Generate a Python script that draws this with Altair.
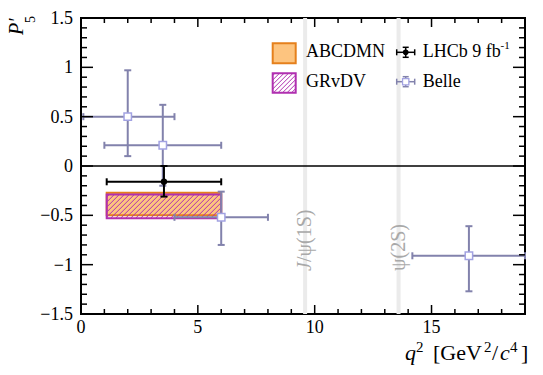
import altair as alt
import numpy as np
import pandas as pd

# ---------------- data ----------------
# LHCb 9 fb-1
lhcb_x = [3.55]
lhcb_xlo = [1.1]
lhcb_xhi = [6.0]
lhcb_y = [-0.16]
lhcb_ylo = [-0.31]
lhcb_yhi = [0.0]

# Belle
belle_x = [2.0, 3.5, 6.0, 16.6]
belle_xlo = [0.1, 1.0, 4.0, 14.18]
belle_xhi = [4.0, 6.0, 8.0, 19.0]
belle_y = [0.50, 0.21, -0.52, -0.91]
belle_ylo = [0.10, -0.20, -0.80, -1.27]
belle_yhi = [0.97, 0.62, -0.26, -0.61]

# theory boxes
abcdmn_box = [1.1, 6.0, -0.50, -0.27]   # x0, x1, y0, y1
grvdv_box = [1.1, 6.0, -0.53, -0.29]

# charmonium resonances
res_q2 = [9.59, 13.59]

# axis ticks and labels
x_major = [0, 5, 10, 15]
x_labels = ["0", "5", "10", "15"]
x_minor = [v for v in range(1, 19) if v % 5 != 0]
y_major = [-1.5, -1.0, -0.5, 0.0, 0.5, 1.0, 1.5]
y_labels = ["−1.5", "−1", "−0.5", "0", "0.5", "1", "1.5"]
y_minor = [round(v / 10, 1) for v in range(-14, 15) if v % 5 != 0]

# ---------------- layout ----------------
W, H = 444, 296
XD, YD = [0, 19], [-1.5, 1.5]
SX, SY = W / (XD[1] - XD[0]), H / (YD[1] - YD[0])
FONT = "Liberation Serif"

xs = alt.Scale(domain=XD, nice=False, zero=False)
ys = alt.Scale(domain=YD, nice=False, zero=False)

ORANGE_FILL = "#fdc47f"
ORANGE_EDGE = "#e5801c"
PURPLE = "#b02fb0"
BELLE_LINE = "#8282ac"
BELLE_MARK = "#a2a2e2"


def dx(px):
    """pixel offset inside the plot area -> data x"""
    return XD[0] + px / SX


def dy(py):
    """pixel offset (from top) inside the plot area -> data y"""
    return YD[1] - py / SY


def hatch_data(box, step=5.0):
    x0, x1, y0, y1 = box
    u0, u1, v0, v1 = x0 * SX, x1 * SX, y0 * SY, y1 * SY
    rows = []
    for c in np.arange(u0 - v1 + step / 2, u1 - v0, step):
        ua = max(u0, v0 + c)
        ub = min(u1, v1 + c)
        if ub > ua:
            rows.append({"xa": ua / SX, "ya": (ua - c) / SY, "xb": ub / SX, "yb": (ub - c) / SY})
    return pd.DataFrame(rows)


X = lambda f: alt.X(f, scale=xs, axis=None)
Y = lambda f: alt.Y(f, scale=ys, axis=None)

layers = []

# resonance vetoed regions
res_df = pd.DataFrame({"x": res_q2})
layers.append(
    alt.Chart(res_df).mark_rule(color="#ebebeb", strokeWidth=4).encode(
        x=X("x:Q"), y=alt.value(0), y2=alt.value(H))
)

# zero line
layers.append(
    alt.Chart(pd.DataFrame({"v": [0.0]})).mark_rule(color="black", strokeWidth=1.5).encode(
        y=Y("v:Q"), x=alt.value(0), x2=alt.value(W))
)

# resonance labels
res_lab_it = pd.DataFrame({"x": [res_q2[0]], "y": [dy(253)], "t": ["J"]})
res_lab = pd.DataFrame({"x": res_q2, "y": [dy(244), dy(253)], "t": ["/ψ(1S)", "ψ(2S)"]})
for d, style in [(res_lab_it, "italic"), (res_lab, "normal")]:
    layers.append(
        alt.Chart(d).mark_text(font=FONT, fontSize=20, fontStyle=style, angle=270, align="left",
                               baseline="middle", color="#a9a9a9").encode(
            x=X("x:Q"), y=Y("y:Q"), text="t:N")
    )

# ABCDMN box
bx = pd.DataFrame([dict(zip(["x0", "x1", "y0", "y1"], abcdmn_box))])
layers.append(
    alt.Chart(bx).mark_rect(fill=ORANGE_FILL, stroke=ORANGE_EDGE, strokeWidth=2).encode(
        x=X("x0:Q"), x2="x1:Q", y=Y("y0:Q"), y2="y1:Q")
)
# GRvDV hatched box
layers.append(
    alt.Chart(hatch_data(grvdv_box)).mark_rule(color=PURPLE, strokeWidth=1).encode(
        x=X("xa:Q"), x2="xb:Q", y=Y("ya:Q"), y2="yb:Q")
)
gb = pd.DataFrame([dict(zip(["x0", "x1", "y0", "y1"], grvdv_box))])
layers.append(
    alt.Chart(gb).mark_rect(fill="transparent", stroke=PURPLE, strokeWidth=2).encode(
        x=X("x0:Q"), x2="x1:Q", y=Y("y0:Q"), y2="y1:Q")
)


def errbars(x, xlo, xhi, y, ylo, yhi, color, width, cap):
    df = pd.DataFrame({"x": x, "xlo": xlo, "xhi": xhi, "y": y, "ylo": ylo, "yhi": yhi})
    out = [
        alt.Chart(df).mark_rule(color=color, strokeWidth=width).encode(
            x=X("xlo:Q"), x2="xhi:Q", y=Y("y:Q")),
        alt.Chart(df).mark_rule(color=color, strokeWidth=width).encode(
            x=X("x:Q"), y=Y("ylo:Q"), y2="yhi:Q"),
    ]
    vcaps = pd.concat([df[["xlo", "y"]].rename(columns={"xlo": "cx"}),
                       df[["xhi", "y"]].rename(columns={"xhi": "cx"})])
    hcaps = pd.concat([df[["x", "ylo"]].rename(columns={"ylo": "cy"}),
                       df[["x", "yhi"]].rename(columns={"yhi": "cy"})])
    out.append(alt.Chart(vcaps).mark_tick(orient="vertical", color=color, size=cap,
                                          thickness=width, opacity=1).encode(
        x=X("cx:Q"), y=Y("y:Q")))
    out.append(alt.Chart(hcaps).mark_tick(orient="horizontal", color=color, size=cap,
                                          thickness=width, opacity=1).encode(
        x=X("x:Q"), y=Y("cy:Q")))
    return out, df


bl, bdf = errbars(belle_x, belle_xlo, belle_xhi, belle_y, belle_ylo, belle_yhi, BELLE_LINE, 2, 7)
layers += bl
layers.append(
    alt.Chart(bdf).mark_point(shape="square", filled=True, fill="white", stroke=BELLE_MARK,
                              strokeWidth=1.5, size=55, opacity=1).encode(x=X("x:Q"), y=Y("y:Q"))
)
ll, ldf = errbars(lhcb_x, lhcb_xlo, lhcb_xhi, lhcb_y, lhcb_ylo, lhcb_yhi, "black", 2, 7)
layers += ll
layers.append(
    alt.Chart(ldf).mark_point(shape="circle", filled=True, color="black", size=40, opacity=1).encode(
        x=X("x:Q"), y=Y("y:Q"))
)

# ---------------- inward ticks on all four sides ----------------
def xt(vals, y1, y2):
    return alt.Chart(pd.DataFrame({"v": vals})).mark_rule(color="black", strokeWidth=1.5).encode(
        x=X("v:Q"), y=alt.value(y1), y2=alt.value(y2))


def yt(vals, x1, x2):
    return alt.Chart(pd.DataFrame({"v": vals})).mark_rule(color="black", strokeWidth=1.5).encode(
        y=Y("v:Q"), x=alt.value(x1), x2=alt.value(x2))


layers += [xt(x_major, H, H - 9), xt(x_minor, H, H - 5), xt(x_major, 0, 9), xt(x_minor, 0, 5),
           yt(y_major, 0, 12), yt(y_minor, 0, 6), yt(y_major, W, W - 12), yt(y_minor, W, W - 6)]

# tick labels
layers.append(
    alt.Chart(pd.DataFrame({"v": x_major, "t": x_labels})).mark_text(
        font=FONT, fontSize=18, align="center", baseline="alphabetic", color="black").encode(
        x=X("v:Q"), y=alt.value(H + 19), text="t:N")
)
layers.append(
    alt.Chart(pd.DataFrame({"v": y_major, "t": y_labels})).mark_text(
        font=FONT, fontSize=18, align="right", baseline="alphabetic", color="black", dx=-8, dy=6).encode(
        x=alt.value(0), y=Y("v:Q"), text="t:N")
)

# ---------------- legend ----------------
def rect_px(x0, x1, y0, y1):
    return pd.DataFrame({"x0": [dx(x0)], "x1": [dx(x1)], "y0": [dy(y0)], "y1": [dy(y1)]})


layers.append(alt.Chart(rect_px(191.7, 214.7, 25.3, 45.3)).mark_rect(
    fill=ORANGE_FILL, stroke=ORANGE_EDGE, strokeWidth=2).encode(
    x=X("x0:Q"), x2="x1:Q", y=Y("y0:Q"), y2="y1:Q"))
leg_box = [dx(191.7), dx(214.7), dy(74.7), dy(55.3)]
layers.append(alt.Chart(hatch_data(leg_box, step=4.5)).mark_rule(color=PURPLE, strokeWidth=1).encode(
    x=X("xa:Q"), x2="xb:Q", y=Y("ya:Q"), y2="yb:Q"))
layers.append(alt.Chart(rect_px(191.7, 214.7, 55.3, 74.7)).mark_rect(
    fill="transparent", stroke=PURPLE, strokeWidth=2).encode(
    x=X("x0:Q"), x2="x1:Q", y=Y("y0:Q"), y2="y1:Q"))


def leg_marker(cx, cy, color, half=9, vhalf=5):
    d = pd.DataFrame({"x0": [dx(cx - half)], "x1": [dx(cx + half)], "cx": [dx(cx)],
                      "cy": [dy(cy)], "y0": [dy(cy - vhalf)], "y1": [dy(cy + vhalf)]})
    return [
        alt.Chart(d).mark_rule(color=color, strokeWidth=1.5).encode(
            x=X("x0:Q"), x2="x1:Q", y=Y("cy:Q")),
        alt.Chart(d).mark_rule(color=color, strokeWidth=1.5).encode(
            x=X("cx:Q"), y=Y("y0:Q"), y2="y1:Q"),
        alt.Chart(pd.DataFrame({"x": [dx(cx - half), dx(cx + half)], "y": [dy(cy)] * 2})).mark_tick(
            orient="vertical", color=color, size=6, thickness=1.5, opacity=1).encode(
            x=X("x:Q"), y=Y("y:Q")),
        alt.Chart(pd.DataFrame({"x": [dx(cx)] * 2, "y": [dy(cy - vhalf), dy(cy + vhalf)]})).mark_tick(
            orient="horizontal", color=color, size=6, thickness=1.5, opacity=1).encode(
            x=X("x:Q"), y=Y("y:Q")),
    ]


layers += leg_marker(324.7, 34.3, "black")
layers.append(alt.Chart(pd.DataFrame({"x": [dx(324.7)], "y": [dy(34.3)]})).mark_point(
    shape="circle", filled=True, color="black", size=32, opacity=1).encode(x=X("x:Q"), y=Y("y:Q")))
layers += leg_marker(324.7, 63.7, BELLE_LINE)
layers.append(alt.Chart(pd.DataFrame({"x": [dx(324.7)], "y": [dy(63.7)]})).mark_point(
    shape="square", filled=True, fill="white", stroke=BELLE_MARK, strokeWidth=1.3, size=40,
    opacity=1).encode(x=X("x:Q"), y=Y("y:Q")))


def texts(rows, size, style="normal", angle=0):
    d = pd.DataFrame(rows, columns=["t", "px", "py"])
    d["x"] = d["px"].map(dx)
    d["y"] = d["py"].map(dy)
    return alt.Chart(d).mark_text(font=FONT, fontSize=size, fontStyle=style, align="left",
                                  baseline="alphabetic", color="black", angle=angle).encode(
        x=X("x:Q"), y=Y("y:Q"), text="t:N")


layers.append(texts([["ABCDMN", 225, 38.7], ["GRvDV", 225, 68.7],
                     ["LHCb 9 fb", 341.7, 38.7], ["Belle", 341.7, 68.7]], 18))
layers.append(texts([["-1", 419.5, 31]], 11))

# ---------------- axis titles ----------------
layers.append(texts([["2", 335, 333.7], ["2", 403, 333.7], ["4", 429, 333.7]], 15))
layers.append(texts([["[GeV", 352, 342], ["/", 411, 342], ["]", 440, 342]], 22))
layers.append(texts([["q", 324, 342], ["c", 419, 342]], 22, style="italic"))
layers.append(texts([["P′", -58, 17]], 20, style="italic", angle=270))
layers.append(texts([["5", -46, 5]], 14, angle=270))

chart = alt.layer(*layers).properties(
    width=W, height=H,
    autosize=alt.AutoSizeParams(type="none"),
    padding={"left": 81, "top": 18, "right": 18, "bottom": 61},
).configure_view(stroke="black", strokeWidth=2)

chart.save("out.html", embed_options={"renderer": "svg", "actions": False})
